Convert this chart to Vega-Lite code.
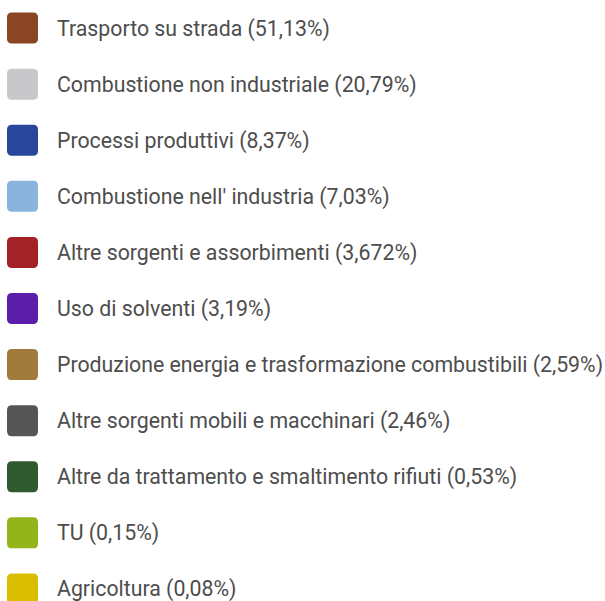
{
  "$schema": "https://vega.github.io/schema/vega-lite/v6.json",
  "width": 560,
  "height": 617,
  "autosize": "none",
  "padding": {"left": 22.5, "top": 0, "right": 22.5, "bottom": 0},
  "background": "white",
  "config": {"view": {"stroke": null}},
  "data": {
    "values": [
      {"label": "Trasporto su strada (51,13%)"},
      {"label": "Combustione non industriale (20,79%)"},
      {"label": "Processi produttivi (8,37%)"},
      {"label": "Combustione nell' industria (7,03%)"},
      {"label": "Altre sorgenti e assorbimenti (3,672%)"},
      {"label": "Uso di solventi (3,19%)"},
      {"label": "Produzione energia e trasformazione combustibili (2,59%)"},
      {"label": "Altre sorgenti mobili e macchinari (2,46%)"},
      {"label": "Altre da trattamento e smaltimento rifiuti (0,53%)"},
      {"label": "TU (0,15%)"},
      {"label": "Agricoltura (0,08%)"}
    ]
  },
  "encoding": {
    "y": {"field": "label", "type": "nominal", "sort": null, "scale": {"type": "point", "padding": 0.5}, "axis": null}
  },
  "layer": [
    {
      "mark": {"type": "point", "filled": true, "opacity": 1, "size": 961, "shape": "M -0.68,-1 L 0.68,-1 Q 1,-1 1,-0.68 L 1,0.68 Q 1,1 0.68,1 L -0.68,1 Q -1,1 -1,0.68 L -1,-0.68 Q -1,-1 -0.68,-1 Z"},
      "encoding": {
        "x": {"datum": 0, "type": "quantitative", "scale": {"domain": [0, 1]}, "axis": null},
        "color": {
          "field": "label", "type": "nominal", "legend": null,
          "scale": {
            "domain": [
              "Trasporto su strada (51,13%)",
              "Combustione non industriale (20,79%)",
              "Processi produttivi (8,37%)",
              "Combustione nell' industria (7,03%)",
              "Altre sorgenti e assorbimenti (3,672%)",
              "Uso di solventi (3,19%)",
              "Produzione energia e trasformazione combustibili (2,59%)",
              "Altre sorgenti mobili e macchinari (2,46%)",
              "Altre da trattamento e smaltimento rifiuti (0,53%)",
              "TU (0,15%)",
              "Agricoltura (0,08%)"
            ],
            "range": ["#8a4525", "#c8c8ca", "#28479a", "#8ab4dc", "#a32228", "#5a1ea8", "#a07b3c", "#555556", "#2f5a30", "#94b51a", "#d8bd00"]
          }
        }
      }
    },
    {
      "mark": {"type": "text", "align": "left", "baseline": "alphabetic", "dx": 34.5, "dy": 7.5, "font": "Roboto", "fontSize": 21.3, "color": "#4d4d4d"},
      "encoding": {
        "x": {"datum": 0, "type": "quantitative"},
        "text": {"field": "label"}
      }
    }
  ]
}
